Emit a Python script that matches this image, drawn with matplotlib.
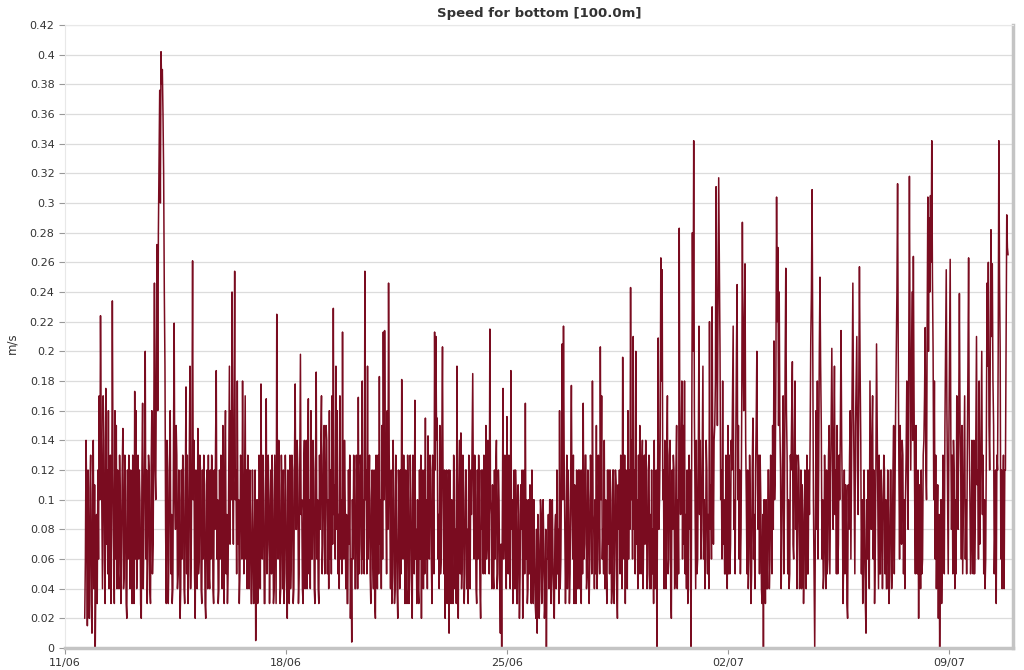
import numpy as np
import pandas as pd
import matplotlib
matplotlib.use("Agg")
import matplotlib.pyplot as plt
import matplotlib.dates as mdates

# current speed at 100 m, on the hour, one row per day starting 11/06 15:00
speed = [
    0.02, 0.14, 0.015, 0.05, 0.108, 0.03, 0.105, 0.04, 0.0, 0.09, 0.12, 0.17, 0.224, 0.09, 0.17, 0.06, 0.175, 0.12, 0.16, 0.1, 0.03, 0.234, 0.07, 0.16,
    0.15, 0.12, 0.04, 0.1, 0.07, 0.148, 0.05, 0.1, 0.02, 0.06, 0.1, 0.12, 0.03, 0.09, 0.173, 0.16, 0.07, 0.06, 0.1, 0.02, 0.165, 0.08, 0.2, 0.12,
    0.06, 0.12, 0.03, 0.16, 0.07, 0.246, 0.1, 0.272, 0.28, 0.376, 0.402, 0.39, 0.32, 0.19, 0.03, 0.12, 0.06, 0.16, 0.09, 0.04, 0.219, 0.08, 0.13, 0.05,
    0.1, 0.04, 0.06, 0.12, 0.03, 0.176, 0.13, 0.05, 0.19, 0.07, 0.261, 0.14, 0.02, 0.11, 0.148, 0.06, 0.12, 0.03, 0.06, 0.1, 0.02, 0.12, 0.13, 0.04,
    0.06, 0.12, 0.03, 0.08, 0.187, 0.1, 0.04, 0.06, 0.1, 0.15, 0.03, 0.16, 0.09, 0.05, 0.19, 0.16, 0.24, 0.07, 0.254, 0.12, 0.18, 0.1, 0.05, 0.12,
    0.18, 0.05, 0.17, 0.12, 0.13, 0.04, 0.09, 0.03, 0.08, 0.06, 0.005, 0.1, 0.04, 0.12, 0.178, 0.06, 0.1, 0.03, 0.168, 0.07, 0.1, 0.08, 0.05, 0.1,
    0.04, 0.08, 0.225, 0.06, 0.11, 0.04, 0.1, 0.12, 0.05, 0.1, 0.02, 0.09, 0.13, 0.06, 0.12, 0.04, 0.178, 0.08, 0.12, 0.05, 0.198, 0.1, 0.03, 0.14,
    0.08, 0.04, 0.168, 0.1, 0.16, 0.06, 0.12, 0.03, 0.186, 0.1, 0.03, 0.08, 0.17, 0.07, 0.15, 0.09, 0.14, 0.1, 0.16, 0.12, 0.17, 0.229, 0.11, 0.19,
    0.16, 0.09, 0.17, 0.1, 0.213, 0.06, 0.1, 0.09, 0.03, 0.07, 0.02, 0.004, 0.06, 0.12, 0.04, 0.1, 0.169, 0.07, 0.12, 0.18, 0.1, 0.254, 0.12, 0.19,
    0.1, 0.05, 0.1, 0.06, 0.12, 0.02, 0.08, 0.13, 0.183, 0.1, 0.15, 0.213, 0.214, 0.1, 0.16, 0.246, 0.09, 0.12, 0.05, 0.1, 0.04, 0.08, 0.02, 0.1,
    0.12, 0.181, 0.06, 0.09, 0.12, 0.03, 0.1, 0.05, 0.1, 0.02, 0.12, 0.167, 0.08, 0.1, 0.03, 0.06, 0.02, 0.11, 0.12, 0.155, 0.1, 0.143, 0.06, 0.12,
    0.03, 0.1, 0.213, 0.21, 0.155, 0.09, 0.15, 0.06, 0.203, 0.05, 0.02, 0.12, 0.06, 0.01, 0.07, 0.1, 0.03, 0.12, 0.08, 0.19, 0.02, 0.14, 0.145, 0.06,
    0.1, 0.05, 0.12, 0.08, 0.13, 0.04, 0.09, 0.185, 0.06, 0.1, 0.03, 0.06, 0.1, 0.02, 0.08, 0.05, 0.12, 0.15, 0.07, 0.12, 0.215, 0.09, 0.11, 0.04,
    0.06, 0.14, 0.05, 0.1, 0.01, 0.0, 0.175, 0.08, 0.12, 0.156, 0.05, 0.11, 0.187, 0.1, 0.06, 0.04, 0.1, 0.03, 0.09, 0.05, 0.08, 0.02, 0.12, 0.165,
    0.1, 0.04, 0.05, 0.08, 0.12, 0.03, 0.06, 0.02, 0.01, 0.07, 0.04, 0.09, 0.05, 0.07, 0.03, 0.0, 0.06, 0.04, 0.1, 0.05, 0.06, 0.02, 0.09, 0.12,
    0.08, 0.16, 0.06, 0.205, 0.217, 0.08, 0.07, 0.04, 0.09, 0.05, 0.177, 0.06, 0.03, 0.08, 0.12, 0.05, 0.04, 0.1, 0.12, 0.165, 0.07, 0.13, 0.05, 0.1,
    0.06, 0.12, 0.18, 0.08, 0.1, 0.15, 0.06, 0.1, 0.203, 0.17, 0.08, 0.14, 0.1, 0.03, 0.07, 0.05, 0.1, 0.04, 0.12, 0.06, 0.11, 0.02, 0.08, 0.05,
    0.1, 0.196, 0.06, 0.03, 0.1, 0.16, 0.12, 0.243, 0.14, 0.21, 0.12, 0.2, 0.1, 0.13, 0.15, 0.05, 0.14, 0.08, 0.07, 0.12, 0.05, 0.13, 0.09, 0.12,
    0.08, 0.14, 0.05, 0.0, 0.209, 0.1, 0.263, 0.255, 0.12, 0.14, 0.04, 0.17, 0.06, 0.14, 0.02, 0.08, 0.12, 0.05, 0.15, 0.1, 0.283, 0.09, 0.18, 0.15,
    0.18, 0.09, 0.12, 0.04, 0.08, 0.0, 0.28, 0.342, 0.1, 0.14, 0.06, 0.217, 0.14, 0.08, 0.19, 0.1, 0.06, 0.12, 0.09, 0.22, 0.11, 0.23, 0.07, 0.15,
    0.311, 0.15, 0.317, 0.2, 0.12, 0.18, 0.1, 0.05, 0.09, 0.15, 0.13, 0.07, 0.12, 0.217, 0.1, 0.14, 0.245, 0.15, 0.12, 0.08, 0.287, 0.16, 0.259, 0.1,
    0.12, 0.06, 0.1, 0.05, 0.155, 0.09, 0.12, 0.2, 0.08, 0.05, 0.1, 0.03, 0.0, 0.08, 0.1, 0.04, 0.12, 0.06, 0.1, 0.15, 0.207, 0.12, 0.304, 0.27,
    0.24, 0.12, 0.08, 0.17, 0.1, 0.256, 0.13, 0.1, 0.05, 0.12, 0.193, 0.06, 0.18, 0.13, 0.08, 0.12, 0.07, 0.04, 0.09, 0.06, 0.1, 0.13, 0.05, 0.09,
    0.208, 0.309, 0.1, 0.0, 0.16, 0.18, 0.12, 0.25, 0.15, 0.1, 0.05, 0.09, 0.12, 0.06, 0.15, 0.1, 0.202, 0.08, 0.19, 0.12, 0.15, 0.07, 0.1, 0.214,
    0.1, 0.06, 0.05, 0.1, 0.02, 0.08, 0.16, 0.12, 0.246, 0.1, 0.15, 0.21, 0.09, 0.257, 0.14, 0.1, 0.05, 0.08, 0.01, 0.06, 0.1, 0.18, 0.08, 0.17,
    0.12, 0.06, 0.205, 0.1, 0.13, 0.05, 0.1, 0.08, 0.12, 0.1, 0.04, 0.09, 0.05, 0.12, 0.06, 0.15, 0.1, 0.2, 0.313, 0.12, 0.15, 0.07, 0.13, 0.1,
    0.1, 0.18, 0.08, 0.318, 0.12, 0.24, 0.264, 0.1, 0.15, 0.05, 0.02, 0.09, 0.12, 0.06, 0.14, 0.216, 0.1, 0.304, 0.29, 0.305, 0.342, 0.2, 0.18, 0.13,
    0.08, 0.02, 0.0, 0.1, 0.06, 0.12, 0.15, 0.255, 0.1, 0.14, 0.262, 0.08, 0.05, 0.12, 0.1, 0.17, 0.08, 0.239, 0.12, 0.15, 0.09, 0.17, 0.1, 0.13,
    0.263, 0.1, 0.07, 0.12, 0.14, 0.08, 0.21, 0.12, 0.18, 0.1, 0.2, 0.13, 0.1, 0.06, 0.246, 0.26, 0.12, 0.282, 0.259, 0.15, 0.08, 0.03, 0.12, 0.342,
    0.2, 0.12, 0.1, 0.04, 0.12, 0.292, 0.265,
]
# readings at half past each hour
speed_half = [
    0.06, 0.1, 0.12, 0.02, 0.13, 0.01, 0.14, 0.11, 0.05, 0.03, 0.06, 0.1, 0.15, 0.04, 0.14, 0.03, 0.07, 0.05, 0.04, 0.13, 0.08, 0.12, 0.03, 0.06,
    0.04, 0.05, 0.13, 0.03, 0.12, 0.04, 0.13, 0.03, 0.12, 0.13, 0.04, 0.05, 0.13, 0.03, 0.06, 0.04, 0.13, 0.12, 0.03, 0.12, 0.04, 0.13, 0.06, 0.03,
    0.13, 0.04, 0.12, 0.05, 0.15, 0.12, 0.2, 0.16, 0.33, 0.3, 0.38, 0.36, 0.24, 0.08, 0.14, 0.03, 0.13, 0.05, 0.03, 0.14, 0.1, 0.15, 0.04, 0.12,
    0.02, 0.12, 0.13, 0.04, 0.11, 0.05, 0.03, 0.13, 0.04, 0.14, 0.1, 0.05, 0.12, 0.04, 0.05, 0.13, 0.04, 0.12, 0.13, 0.03, 0.11, 0.04, 0.05, 0.12,
    0.13, 0.04, 0.12, 0.14, 0.06, 0.03, 0.12, 0.13, 0.04, 0.06, 0.12, 0.05, 0.03, 0.12, 0.07, 0.1, 0.12, 0.15, 0.1, 0.05, 0.07, 0.03, 0.13, 0.06,
    0.1, 0.11, 0.06, 0.04, 0.05, 0.12, 0.03, 0.12, 0.03, 0.12, 0.08, 0.03, 0.13, 0.04, 0.09, 0.13, 0.03, 0.12, 0.05, 0.13, 0.03, 0.12, 0.13, 0.03,
    0.13, 0.03, 0.12, 0.14, 0.03, 0.13, 0.04, 0.03, 0.13, 0.04, 0.12, 0.03, 0.04, 0.13, 0.03, 0.13, 0.08, 0.14, 0.03, 0.12, 0.09, 0.04, 0.12, 0.04,
    0.14, 0.12, 0.05, 0.04, 0.06, 0.14, 0.04, 0.13, 0.06, 0.04, 0.13, 0.14, 0.05, 0.13, 0.05, 0.15, 0.05, 0.04, 0.06, 0.05, 0.07, 0.09, 0.06, 0.08,
    0.05, 0.04, 0.06, 0.05, 0.08, 0.14, 0.04, 0.03, 0.12, 0.13, 0.06, 0.1, 0.13, 0.04, 0.13, 0.04, 0.05, 0.13, 0.05, 0.06, 0.05, 0.1, 0.05, 0.06,
    0.13, 0.03, 0.12, 0.04, 0.03, 0.13, 0.04, 0.05, 0.07, 0.04, 0.06, 0.1, 0.14, 0.05, 0.08, 0.13, 0.04, 0.03, 0.14, 0.03, 0.13, 0.04, 0.12, 0.04,
    0.05, 0.1, 0.13, 0.03, 0.04, 0.13, 0.03, 0.13, 0.04, 0.13, 0.05, 0.06, 0.03, 0.04, 0.12, 0.13, 0.12, 0.04, 0.05, 0.06, 0.04, 0.07, 0.13, 0.06,
    0.13, 0.05, 0.12, 0.14, 0.06, 0.04, 0.05, 0.14, 0.1, 0.12, 0.11, 0.03, 0.12, 0.12, 0.03, 0.05, 0.13, 0.04, 0.03, 0.07, 0.11, 0.05, 0.04, 0.13,
    0.03, 0.12, 0.04, 0.03, 0.06, 0.12, 0.14, 0.1, 0.13, 0.04, 0.12, 0.13, 0.04, 0.12, 0.12, 0.13, 0.05, 0.06, 0.14, 0.05, 0.1, 0.04, 0.05, 0.12,
    0.12, 0.04, 0.12, 0.04, 0.07, 0.09, 0.06, 0.13, 0.04, 0.06, 0.13, 0.04, 0.08, 0.03, 0.12, 0.12, 0.03, 0.11, 0.02, 0.11, 0.12, 0.1, 0.05, 0.06,
    0.03, 0.1, 0.11, 0.03, 0.05, 0.1, 0.03, 0.08, 0.09, 0.02, 0.1, 0.03, 0.1, 0.02, 0.08, 0.06, 0.09, 0.1, 0.03, 0.1, 0.03, 0.08, 0.04, 0.05,
    0.03, 0.04, 0.12, 0.1, 0.13, 0.03, 0.13, 0.12, 0.03, 0.12, 0.09, 0.13, 0.11, 0.03, 0.04, 0.12, 0.12, 0.03, 0.05, 0.06, 0.13, 0.04, 0.12, 0.03,
    0.13, 0.05, 0.09, 0.04, 0.05, 0.04, 0.13, 0.05, 0.1, 0.06, 0.05, 0.04, 0.05, 0.12, 0.12, 0.12, 0.03, 0.12, 0.03, 0.12, 0.04, 0.11, 0.12, 0.13,
    0.04, 0.1, 0.13, 0.12, 0.04, 0.06, 0.08, 0.1, 0.06, 0.08, 0.05, 0.07, 0.04, 0.05, 0.06, 0.12, 0.04, 0.13, 0.14, 0.04, 0.12, 0.04, 0.04, 0.05,
    0.03, 0.04, 0.12, 0.1, 0.08, 0.14, 0.18, 0.1, 0.04, 0.05, 0.13, 0.05, 0.13, 0.04, 0.12, 0.13, 0.04, 0.12, 0.04, 0.05, 0.12, 0.14, 0.06, 0.07,
    0.05, 0.04, 0.03, 0.13, 0.12, 0.14, 0.2, 0.16, 0.04, 0.05, 0.13, 0.09, 0.06, 0.14, 0.06, 0.04, 0.14, 0.05, 0.04, 0.08, 0.06, 0.13, 0.14, 0.18,
    0.22, 0.24, 0.26, 0.1, 0.06, 0.07, 0.05, 0.13, 0.04, 0.05, 0.05, 0.14, 0.17, 0.08, 0.05, 0.2, 0.1, 0.06, 0.05, 0.16, 0.2, 0.22, 0.14, 0.05,
    0.04, 0.13, 0.03, 0.12, 0.06, 0.04, 0.15, 0.11, 0.13, 0.13, 0.04, 0.09, 0.1, 0.03, 0.04, 0.12, 0.04, 0.13, 0.05, 0.08, 0.1, 0.19, 0.22, 0.15,
    0.15, 0.04, 0.13, 0.05, 0.19, 0.16, 0.05, 0.04, 0.13, 0.16, 0.07, 0.14, 0.08, 0.04, 0.13, 0.04, 0.12, 0.11, 0.03, 0.12, 0.04, 0.05, 0.12, 0.14,
    0.24, 0.2, 0.05, 0.08, 0.08, 0.06, 0.2, 0.19, 0.06, 0.04, 0.13, 0.04, 0.05, 0.13, 0.05, 0.15, 0.14, 0.13, 0.09, 0.05, 0.05, 0.13, 0.15, 0.14,
    0.03, 0.12, 0.11, 0.03, 0.11, 0.13, 0.06, 0.18, 0.16, 0.05, 0.18, 0.12, 0.17, 0.19, 0.05, 0.03, 0.12, 0.03, 0.1, 0.12, 0.04, 0.13, 0.14, 0.06,
    0.03, 0.12, 0.15, 0.04, 0.05, 0.12, 0.04, 0.13, 0.05, 0.04, 0.12, 0.03, 0.12, 0.04, 0.12, 0.05, 0.16, 0.24, 0.2, 0.06, 0.1, 0.14, 0.05, 0.04,
    0.13, 0.12, 0.2, 0.2, 0.18, 0.14, 0.17, 0.05, 0.06, 0.12, 0.11, 0.04, 0.05, 0.13, 0.17, 0.12, 0.22, 0.2, 0.24, 0.26, 0.25, 0.1, 0.06, 0.04,
    0.11, 0.09, 0.06, 0.03, 0.13, 0.05, 0.2, 0.16, 0.05, 0.2, 0.14, 0.13, 0.14, 0.04, 0.05, 0.09, 0.16, 0.15, 0.06, 0.05, 0.13, 0.06, 0.05, 0.19,
    0.14, 0.05, 0.14, 0.05, 0.05, 0.15, 0.11, 0.06, 0.07, 0.15, 0.09, 0.05, 0.04, 0.14, 0.19, 0.15, 0.2, 0.21, 0.18, 0.05, 0.12, 0.13, 0.2, 0.25,
    0.06, 0.04, 0.13, 0.12, 0.2, 0.27,
]
start_time = "2013-06-11 15:00"
tick_dates = ["2013-06-11", "2013-06-18", "2013-06-25", "2013-07-02", "2013-07-09"]
y_ticks = [round(0.02 * k, 2) for k in range(22)]

t_hour = pd.date_range(start_time, periods=len(speed), freq="h")
t_half = t_hour[:len(speed_half)] + pd.Timedelta(minutes=30)
series = pd.concat([pd.Series(speed, index=t_hour),
                    pd.Series(speed_half, index=t_half)]).sort_index()

fig = plt.figure(figsize=(10.24, 6.7), dpi=100)
ax = fig.add_axes([65 / 1024, 1 - 648 / 670, 948 / 1024, 623 / 670])

ax.plot(series.index, series.values, color="#7a0c20", lw=1.1,
        solid_joinstyle="round", solid_capstyle="round")

ax.set_ylim(0, 0.42)
ax.set_xlim(pd.Timestamp("2013-06-11"), pd.Timestamp("2013-07-11 00:45"))
ax.set_yticks(y_ticks)
ax.set_yticklabels(["%g" % v for v in y_ticks])
ax.set_xticks(pd.to_datetime(tick_dates))
ax.xaxis.set_major_formatter(mdates.DateFormatter("%d/%m"))

ax.grid(axis="y", color="#dcdcdc", lw=0.9)
ax.grid(axis="x", visible=False)
ax.set_axisbelow(True)
ax.tick_params(axis="both", labelsize=8, colors="#333333", length=4, width=0.8)
ax.tick_params(axis="y", color="#999999")
ax.tick_params(axis="x", color="#999999", pad=3)

for s in ["left", "top"]:
    ax.spines[s].set_color("#e8e8e8")
    ax.spines[s].set_linewidth(0.8)
for s in ["right", "bottom"]:
    ax.spines[s].set_color("#c4c4c4")
    ax.spines[s].set_linewidth(2.5)

ax.set_title("Speed for bottom [100.0m]", fontsize=9.5, fontweight="bold", color="#333333", pad=6)
ax.set_ylabel("m/s", fontsize=8.5, color="#333333")
ax.yaxis.set_label_coords(-0.0496, 0.49)

fig.savefig("out.png", dpi=100)
